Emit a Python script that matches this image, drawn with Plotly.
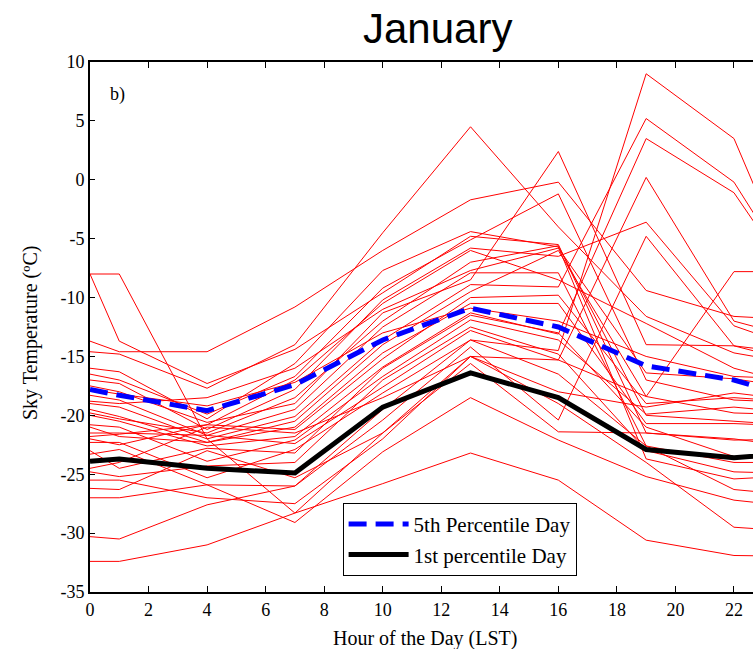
import plotly.graph_objects as go

hours = [0, 1, 4, 7, 10, 13, 16, 19, 22, 25]

# daily sky temperature curves (deg C) at the hours above
days = [
    [-8.0, -8.0, -22.0, -28.3, -21.5, -15.0, -15.3, -18.4, -7.8, -7.8],
    [-8.0, -13.7, -17.3, -14.4, -9.6, -4.8, -5.5, -21.5, -22.1, -22.0],
    [-13.7, -14.6, -14.6, -10.8, -6.0, -1.7, -0.2, -9.4, -11.6, -12.0],
    [-14.6, -14.8, -17.7, -14.0, -4.5, 4.5, -4.0, -11.6, -14.7, -16.0],
    [-16.0, -16.3, -20.3, -15.6, -7.7, -4.4, -5.7, -23.7, -25.4, -25.0],
    [-16.5, -17.0, -19.9, -16.7, -9.2, -5.1, -1.2, -17.0, -18.7, -19.0],
    [-17.0, -17.3, -21.2, -17.8, -10.2, -5.8, -6.5, -3.6, -12.4, -15.0],
    [-17.5, -18.0, -20.6, -19.0, -11.3, -8.5, 2.4, -14.0, -14.1, -15.0],
    [-18.3, -18.7, -21.7, -19.5, -12.5, -7.9, -7.9, -22.6, -24.0, -24.0],
    [-19.0, -19.3, -22.0, -20.1, -13.6, -8.9, -9.1, 5.2, -0.2, -12.0],
    [-19.5, -20.1, -22.3, -21.0, -14.7, -10.5, -10.5, -20.7, -20.7, -21.0],
    [-20.0, -20.5, -22.6, -21.8, -15.9, -11.3, -13.1, 3.5, -1.1, -12.0],
    [-20.8, -21.0, -23.9, -22.1, -16.7, -11.9, -13.6, -19.9, -19.3, -20.0],
    [-21.5, -21.5, -21.7, -22.4, -17.6, -12.8, -15.3, 0.2, -12.0, -14.0],
    [-22.3, -22.3, -25.3, -22.9, -18.1, -13.6, -14.5, 9.0, 3.5, -14.0],
    [-23.3, -22.9, -25.9, -26.0, -20.4, -14.2, -20.4, -4.8, -14.1, -16.0],
    [-24.5, -24.0, -21.0, -21.5, -18.5, -15.0, -18.0, -19.3, -18.1, -19.0],
    [-26.2, -26.3, -23.0, -25.3, -21.5, -15.6, -21.4, -21.5, -22.0, -23.0],
    [-27.0, -27.0, -25.9, -29.1, -23.1, -18.5, -22.1, -25.2, -27.2, -28.0],
    [-30.3, -30.5, -27.6, -26.0, -19.5, -13.6, -16.5, -22.6, -26.3, -27.0],
    [-32.4, -32.4, -31.0, -28.3, -25.8, -23.2, -25.5, -30.6, -31.9, -32.0],
    [-18.8, -19.0, -18.5, -16.0, -11.0, -7.7, -5.8, -16.4, -16.9, -18.0],
    [-21.0, -21.8, -22.3, -20.5, -14.0, -9.5, -6.0, -18.4, -19.8, -20.0],
    [-19.8, -20.3, -21.5, -18.5, -12.0, -7.0, -5.6, -20.0, -20.5, -21.0],
    [-22.0, -22.5, -20.8, -17.0, -10.5, -6.0, -8.5, -12.2, -16.0, -18.0],
    [-17.8, -18.2, -19.2, -17.2, -13.0, -10.9, -12.0, -15.0, -16.7, -17.0],
    [-23.0, -24.5, -22.8, -23.2, -16.0, -11.5, -13.0, -21.0, -23.5, -24.0],
    [-21.8, -21.6, -20.8, -21.2, -15.2, -10.0, -9.8, -19.0, -18.5, -19.0],
    [-24.8, -25.2, -24.3, -24.0, -17.0, -12.5, -14.8, -23.0, -24.8, -25.0],
    [-25.5, -25.5, -27.0, -27.5, -22.0, -15.0, -19.0, -24.0, -29.5, -30.0],
]

p5_day = [-17.8, -18.3, -19.6, -17.4, -13.6, -10.9, -12.5, -15.8, -17.0, -19.2]
p1_day = [-23.9, -23.7, -24.5, -24.9, -19.3, -16.4, -18.5, -22.9, -23.6, -23.0]

y_ticks = [10, 5, 0, -5, -10, -15, -20, -25, -30, -35]
y_tick_text = ["10", "5", "0", "-5", "-10", "-15", "-20", "-25", "-30", "-35"]
x_ticks = [0, 2, 4, 6, 8, 10, 12, 14, 16, 18, 20, 22]

serif = "Liberation Serif, Times New Roman, serif"

fig = go.Figure()
for d in days:
    fig.add_trace(go.Scatter(x=hours, y=d, mode="lines",
                             line=dict(color="#ff0000", width=1),
                             showlegend=False, hoverinfo="skip"))

fig.add_trace(go.Scatter(x=hours, y=p5_day, mode="lines", name="5th Percentile Day",
                         line=dict(color="#0000ff", width=5, dash="18px,9px")))
fig.add_trace(go.Scatter(x=hours, y=p1_day, mode="lines", name="1st percentile Day",
                         line=dict(color="#000000", width=5)))

fig.update_layout(
    width=753, height=649,
    margin=dict(l=90, r=0, t=62, b=57),
    paper_bgcolor="white", plot_bgcolor="white",
    font=dict(family=serif, size=17, color="black"),
    legend=dict(x=0.381, y=0.168, xanchor="left", yanchor="top",
                bgcolor="white", bordercolor="black", borderwidth=1,
                font=dict(family=serif, size=21), tracegroupgap=0,
                itemwidth=60),
    annotations=[
        dict(text="January", x=(437 - 90) / 663, y=1 + (62 - 29) / 530,
             xref="paper", yref="paper", xanchor="center", yanchor="middle",
             showarrow=False, font=dict(family="Liberation Sans, Arial, sans-serif", size=42)),
        dict(text="b)", x=0.6, y=10, xref="x", yref="y", xanchor="left", yanchor="top",
             yshift=-20, showarrow=False, font=dict(family=serif, size=18)),
        dict(text="Hour of the Day (LST)", x=(425 - 90) / 663, y=-0.062, xref="paper", yref="paper",
             xanchor="center", yanchor="top", showarrow=False,
             font=dict(family=serif, size=20)),
        dict(text="Sky Temperature (ºC)", x=-(90 - 30) / 663, y=(592 - 333) / 530,
             xref="paper", yref="paper",
             textangle=-90, xanchor="center", yanchor="middle", showarrow=False,
             font=dict(family=serif, size=20)),
    ],
)

fig.update_xaxes(range=[0, 22.65], tickvals=x_ticks, ticks="inside", ticklen=6,
                 tickwidth=1, tickcolor="black", showline=True, linecolor="black",
                 linewidth=2, mirror="ticks", showgrid=False, zeroline=False,
                 tickfont=dict(family=serif, size=18))
fig.update_yaxes(range=[-35, 10], tickvals=y_ticks, ticktext=y_tick_text,
                 ticks="inside", ticklen=5,
                 tickwidth=1, tickcolor="black", showline=True, linecolor="black",
                 linewidth=2, showgrid=False, zeroline=False,
                 tickfont=dict(family=serif, size=18))

fig.write_html("out.html")
